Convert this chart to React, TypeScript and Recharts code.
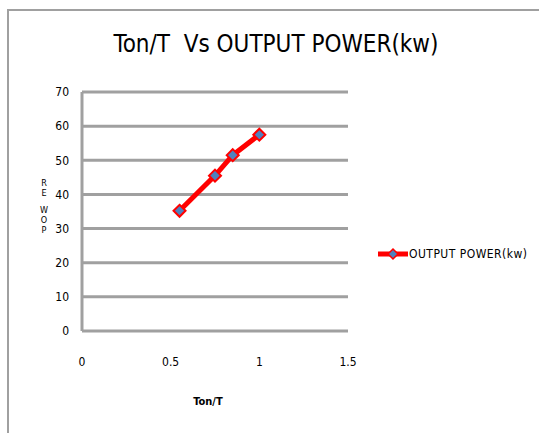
import { LineChart, Line, XAxis, YAxis, CartesianGrid } from 'recharts';

// duty ratio Ton/T against measured output power
const dutyRatio = [0.55, 0.75, 0.85, 1.0];
const outputPower = [35.2, 45.5, 51.5, 57.5];
const xTicks = [0, 0.5, 1, 1.5];
const yTicks = [0, 10, 20, 30, 40, 50, 60, 70];

const data = dutyRatio.map((r, i) => ({ ratio: r, power: outputPower[i] }));

const FONT = '"Liberation Sans Narrow", "DejaVu Sans Condensed", Arial, sans-serif';
const GRID = '#a0a0a0';

// diamond marker: blue fill with red outline
const Diamond = (props: any) => {
  const { cx, cy } = props;
  if (cx == null || cy == null) return null;
  const s = 6;
  return (
    <path
      d={`M${cx},${cy - s} L${cx + s},${cy} L${cx},${cy + s} L${cx - s},${cy} Z`}
      fill="#4f81bd"
      stroke="#ff0000"
      strokeWidth={2}
    />
  );
};

// legend key drawn beside the plot
const LegendKey = () => (
  <svg
    width={160}
    height={20}
    style={{ position: 'absolute', left: 378, top: 244, overflow: 'visible' }}
  >
    <line x1={0} y1={10} x2={30} y2={10} stroke="#ff0000" strokeWidth={5} />
    <path d="M15,5 L20,10 L15,15 L10,10 Z" fill="#4f81bd" stroke="#ff0000" strokeWidth={1.5} />
    <text x={31} y={14} fontFamily={FONT} fontSize={12} textLength={118} fill="#000">
      OUTPUT POWER(kw)
    </text>
  </svg>
);

// the vertical axis title, stacked one letter above another
const PowerLabel = () => {
  const letters = ['R', 'E', 'W', 'O', 'P'];
  const ys = [186, 196, 213, 223, 233];
  return (
    <g>
      {letters.map((ch, i) => (
        <text key={ch} x={44} y={ys[i]} textAnchor="middle" fontFamily={FONT} fontSize={9} fill="#000">
          {ch}
        </text>
      ))}
    </g>
  );
};

const AxisTitle = (props: any) => {
  const { viewBox } = props;
  return (
    <text
      x={viewBox.x + viewBox.width / 2 - 7}
      y={viewBox.y + 74}
      textAnchor="middle"
      fontFamily={FONT}
      fontSize={11}
      fontWeight="bold"
      fill="#000"
    >
      Ton/T
    </text>
  );
};

export default function App() {
  return (
    <div style={{ position: 'absolute', left: 0, top: 0, width: 539, height: 433, background: '#fff' }}>
      {/* chart frame: only the left and top edges show */}
      <div
        style={{
          position: 'absolute',
          left: 7,
          top: 9,
          width: 540,
          height: 440,
          borderLeft: `2px solid ${GRID}`,
          borderTop: `2px solid ${GRID}`,
        }}
      />
      <div
        style={{
          position: 'absolute',
          left: 0,
          width: 552,
          top: 30,
          textAlign: 'center',
          fontFamily: FONT,
          fontSize: 24,
          color: '#000',
          whiteSpace: 'pre',
        }}
      >
        {'Ton/T  Vs OUTPUT POWER(kw)'}
      </div>
      <div style={{ position: 'absolute', left: 0, top: 0 }}>
        <LineChart width={539} height={433} data={data} margin={{ top: 92, right: 191, bottom: 72, left: 22 }}>
          <CartesianGrid vertical={false} stroke={GRID} strokeWidth={3} />
          <XAxis
            dataKey="ratio"
            type="number"
            domain={[0, 1.5]}
            ticks={xTicks}
            tickLine={false}
            axisLine={false}
            tickSize={0}
            tickMargin={26}
            height={30}
            tick={{ fontFamily: FONT, fontSize: 12, fill: '#000' }}
            label={<AxisTitle />}
          />
          <YAxis
            type="number"
            domain={[0, 70]}
            ticks={yTicks}
            width={60}
            tickLine={false}
            axisLine={{ stroke: GRID, strokeWidth: 3 }}
            tickSize={0}
            tickMargin={13}
            tick={{ fontFamily: FONT, fontSize: 12, fill: '#000' }}
            label={<PowerLabel />}
          />
          <Line
            dataKey="power"
            name="OUTPUT POWER(kw)"
            stroke="#ff0000"
            strokeWidth={5}
            dot={<Diamond />}
            activeDot={false}
            isAnimationActive={false}
          />
        </LineChart>
      </div>
      <LegendKey />
    </div>
  );
}
